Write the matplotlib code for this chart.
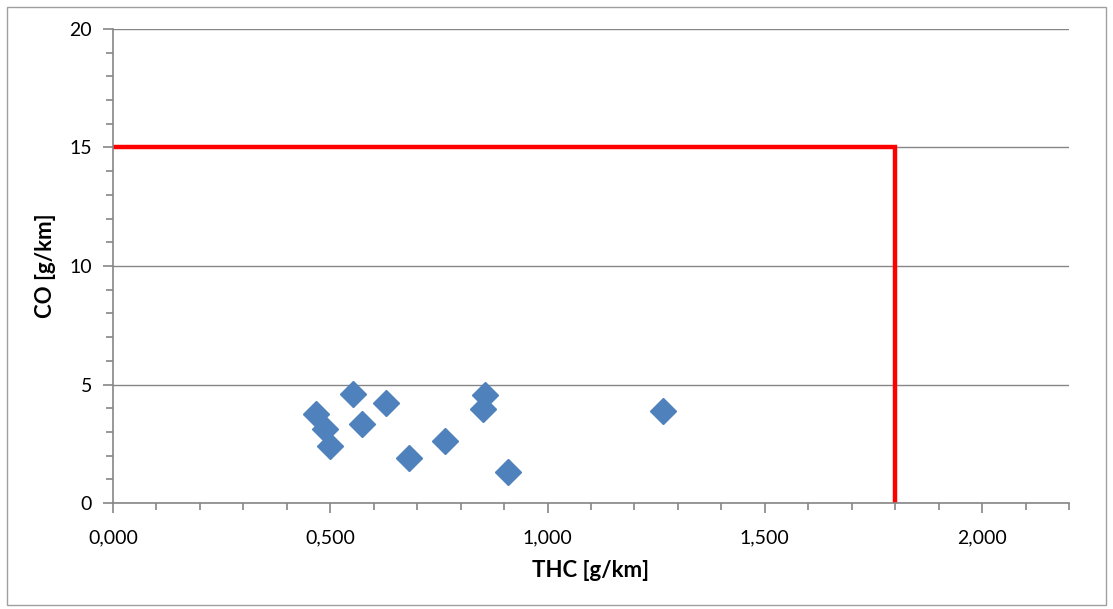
import numpy as np
import matplotlib
matplotlib.use("Agg")
import matplotlib.pyplot as plt
from matplotlib.ticker import FuncFormatter, MultipleLocator
from matplotlib.patches import Rectangle

# measured points
thc = [0.468, 0.489, 0.500, 0.552, 0.572, 0.628, 0.682, 0.764, 0.855, 0.852, 0.908, 1.265]
co = [3.75, 3.12, 2.41, 4.62, 3.32, 4.20, 1.89, 2.62, 4.54, 3.98, 1.29, 3.87]

# limit line (THC 1.8 g/km, CO 15 g/km)
limit_x = [0.0, 1.8, 1.8]
limit_y = [15, 15, 0]

plt.rcParams['font.family'] = ['Lato', 'DejaVu Sans']

fig = plt.figure(figsize=(11.13, 6.09), dpi=100)
ax = fig.add_axes([113/1113, 1 - 503/609, (1069-113)/1113, (503-29)/609])

grey = '#868686'
ax.grid(axis='y', which='major', color=grey, linewidth=1.0, zorder=0)
ax.set_axisbelow(True)

ax.plot(limit_x, limit_y, color='#ff0000', linewidth=3.2, zorder=2,
        solid_capstyle='butt', solid_joinstyle='miter', clip_on=False)
ax.plot(thc, co, linestyle='none', marker='D', markersize=13,
        color='#4f81bd', markeredgecolor='#4f81bd', zorder=3)

ax.set_xlim(0, 2.2)
ax.set_ylim(0, 20)
ax.xaxis.set_major_locator(MultipleLocator(0.5))
ax.xaxis.set_minor_locator(MultipleLocator(0.1))
ax.yaxis.set_major_locator(MultipleLocator(5))
ax.yaxis.set_minor_locator(MultipleLocator(1))
ax.xaxis.set_major_formatter(FuncFormatter(lambda v, p: f"{v:.3f}".replace('.', ',')))
ax.yaxis.set_major_formatter(FuncFormatter(lambda v, p: f"{v:.0f}"))

for s in ['top', 'right']:
    ax.spines[s].set_visible(False)
for s in ['left', 'bottom']:
    ax.spines[s].set_color(grey)
    ax.spines[s].set_linewidth(1.2)

ax.tick_params(which='major', length=7, width=1.2, color=grey, labelsize=14)
ax.tick_params(axis='x', which='major', pad=12)
ax.tick_params(axis='y', which='major', pad=8)
ax.tick_params(which='minor', length=5, width=1.2, color=grey)

ax.set_xlabel('THC [g/km]', fontsize=16, fontweight='bold', labelpad=10)
ax.set_ylabel('CO [g/km]', fontsize=16, fontweight='bold', labelpad=10)

# outer chart border
fig.patches.append(Rectangle((7/1113, 4/609), 1099/1113, 598/609, transform=fig.transFigure,
                             fill=False, edgecolor='#a0a0a0', linewidth=1.0))

fig.savefig('out.png', dpi=100)
